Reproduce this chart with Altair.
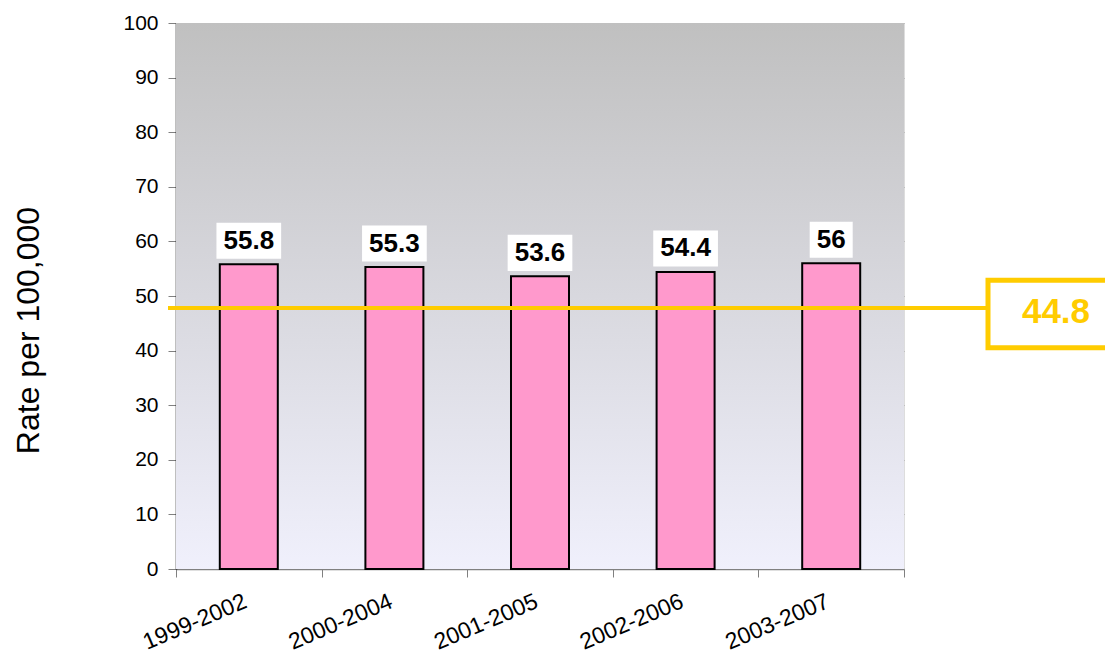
import altair as alt
import pandas as pd

periods = ["1999-2002", "2000-2004", "2001-2005", "2002-2006", "2003-2007"]
rates = [55.8, 55.3, 53.6, 54.4, 56.0]
rate_labels = ["55.8", "55.3", "53.6", "54.4", "56"]
target_line_value = 47.8
target_label = "44.8"
y_ticks = [0, 10, 20, 30, 40, 50, 60, 70, 80, 90, 100]

df = pd.DataFrame({"period": periods, "rate": rates, "label": rate_labels})
ref = pd.DataFrame({"v": [target_line_value], "t": [target_label]})

W, H = 728, 546
FONT = "Liberation Sans"

xenc = alt.X("period:N", sort=periods, title=None,
             scale=alt.Scale(paddingInner=0, paddingOuter=0),
             axis=alt.Axis(labelAngle=-23, labelAlign="right", labelBaseline="top",
                           labelFontSize=23, labelColor="black", labelFont=FONT,
                           labelPadding=13, labelOffset=-8, tickBand="extent", tickSize=8,
                           tickColor="#808080", domainColor="#808080", domainWidth=1.5,
                           grid=False))
yscale = alt.Scale(domain=[0, 100], nice=False, zero=True)

bg = alt.Chart(pd.DataFrame({"a": [0]})).mark_rect(
    fill=alt.Gradient(gradient="linear",
                      stops=[alt.GradientStop(color="#C0C0C0", offset=0),
                             alt.GradientStop(color="#F0F0FC", offset=1)],
                      x1=0, x2=0, y1=0, y2=1)
).encode(x=alt.value(0), x2=alt.value(W), y=alt.value(0), y2=alt.value(H))

base = alt.Chart(df)

bars = base.mark_bar(size=58, fill="#FF99CC", stroke="black", strokeWidth=2).encode(
    x=xenc,
    y=alt.Y("rate:Q", scale=yscale, title="Rate per 100,000",
            axis=alt.Axis(values=y_ticks, labelFontSize=21, labelFont=FONT, labelColor="black",
                          labelPadding=10, tickSize=8, tickColor="#808080",
                          domainColor="black", domainWidth=1.5,
                          gridColor="#A0A0A0", gridWidth=1,
                          titleFontSize=32, titleFont=FONT, titleFontWeight="normal",
                          titleColor="black", titleAngle=-90, titleX=-148, titleY=307,
                          titleAlign="center", titleBaseline="middle")),
)

boxes = base.transform_calculate(
    lo="datum.rate + 1.0", hi="datum.rate + 7.6",
    bw="length(datum.label) * 14.5 - (indexof(datum.label, '.') >= 0 ? 7.3 : 0) + 14"
).mark_bar(fill="white").encode(
    x=alt.X("period:N", sort=periods),
    y=alt.Y("lo:Q", scale=yscale),
    y2="hi:Q",
    size=alt.Size("bw:Q", scale=None, legend=None),
)

texts = base.transform_calculate(mid="datum.rate + 4.3").mark_text(
    font=FONT, fontSize=26, fontWeight="bold", color="black", baseline="middle"
).encode(
    x=alt.X("period:N", sort=periods),
    y=alt.Y("mid:Q", scale=yscale),
    text="label:N",
)

rule = alt.Chart(ref).mark_rule(color="#FFCC00", strokeWidth=4).encode(
    x=alt.value(-8), x2=alt.value(812), y=alt.Y("v:Q", scale=yscale)
)

tbox = alt.Chart(ref).transform_calculate(
    lo="datum.v - 7.3", hi="datum.v + 5.1"
).mark_rect(fill="white", stroke="#FFCC00", strokeWidth=5).encode(
    x=alt.value(812), x2=alt.value(960),
    y=alt.Y("lo:Q", scale=yscale), y2="hi:Q",
)

ttext = alt.Chart(ref).transform_calculate(mid="datum.v - 0.8").mark_text(
    font=FONT, fontSize=35, fontWeight="bold", color="#FFCC00", baseline="middle", align="center"
).encode(
    x=alt.value(880), y=alt.Y("mid:Q", scale=yscale), text="t:N"
)

chart = alt.layer(bg, bars, boxes, texts, rule, tbox, ttext).properties(
    width=W, height=H,
    autosize=alt.AutoSizeParams(type="none"),
    padding={"left": 168, "top": 15, "right": 201, "bottom": 88},
).configure_view(stroke="#888888", strokeWidth=1.5).configure(background="white")

chart.save("out.html", embed_options={"renderer": "svg", "actions": False})
